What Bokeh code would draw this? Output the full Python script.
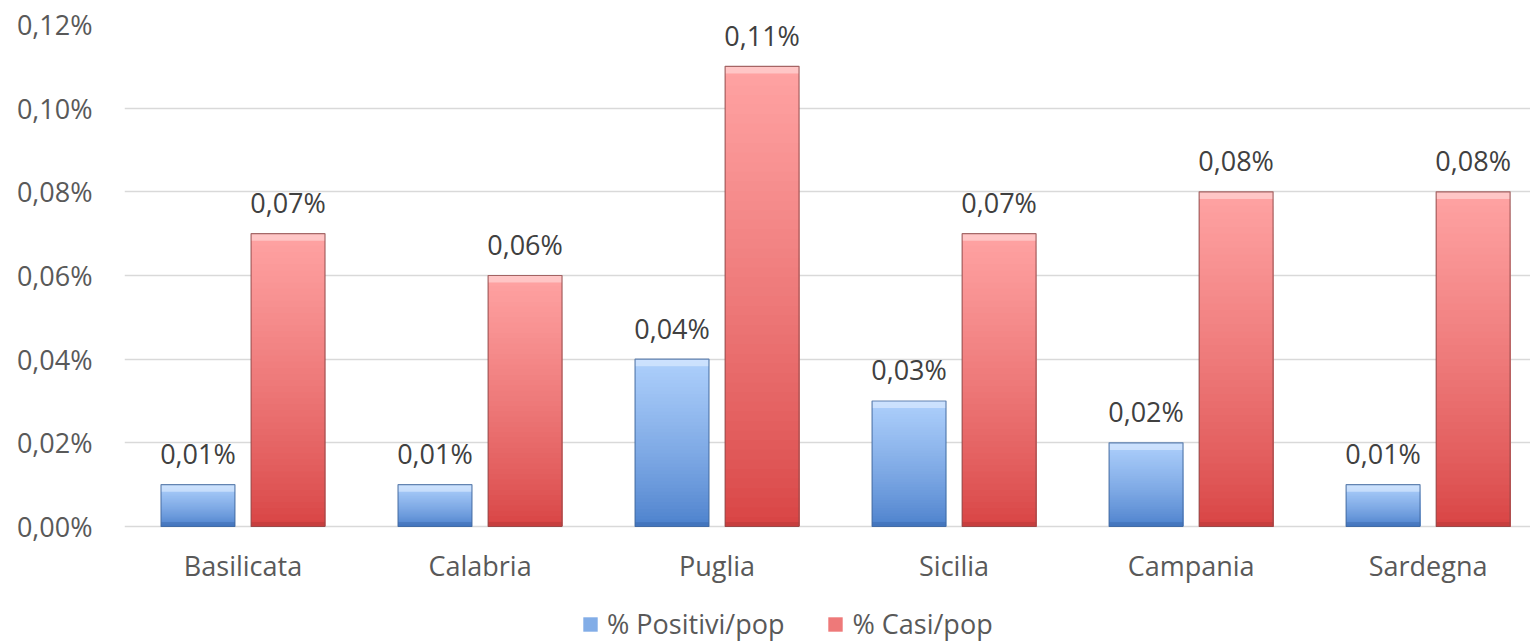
from bokeh.plotting import figure
from bokeh.models import Range1d, FixedTicker, Legend, LegendItem, ColumnDataSource
from bokeh.embed import file_html
from bokeh.resources import INLINE
from bokeh.core.properties import value

# ---- data ----
regions = ["Basilicata", "Calabria", "Puglia", "Sicilia", "Campania", "Sardegna"]
positivi_pop = [0.01, 0.01, 0.04, 0.03, 0.02, 0.01]
casi_pop = [0.07, 0.06, 0.11, 0.07, 0.08, 0.08]
series_names = ["% Positivi/pop", "% Casi/pop"]
y_ticks = [0.00, 0.02, 0.04, 0.06, 0.08, 0.10, 0.12]
y_tick_labels = ["0,00%", "0,02%", "0,04%", "0,06%", "0,08%", "0,10%", "0,12%"]

FONT = "Open Sans"
FS = "27px"
TXT = "#595959"

p = figure(width=1530, height=643, output_backend="svg", toolbar_location=None,
           x_range=Range1d(0, 5.932), y_range=Range1d(-0.02797, 0.12),
           x_axis_location=None,
           min_border_left=124, min_border_right=0, min_border_top=24, min_border_bottom=0)
p.outline_line_color = None
p.background_fill_color = "white"
p.border_fill_color = "white"


def hex2rgb(h):
    h = h.lstrip("#")
    return tuple(int(h[i:i + 2], 16) for i in (0, 2, 4))


def mix(c1, c2, t):
    a, b = hex2rgb(c1), hex2rgb(c2)
    return "#%02x%02x%02x" % tuple(int(round(a[i] + (b[i] - a[i]) * t)) for i in range(3))


N_STEPS = 48


def gradient_bars(xs, vals, width, c_top, c_bot, c_line, c_hi, c_lo):
    n = N_STEPS
    src = dict(x=[], top=[], color=[])
    # overlapping bars from 0, tallest first -> smooth vertical gradient without seams
    for k in range(n):
        frac = (n - k) / n
        t = (n - k - 0.5) / n
        for x, v in zip(xs, vals):
            src["x"].append(x)
            src["top"].append(v * frac)
            src["color"].append(mix(c_bot, c_top, t ** 0.8))
    r = p.vbar(x="x", bottom=0, top="top", width=width, fill_color="color",
               line_color=None, source=ColumnDataSource(src))
    # bevel highlight at top, darker strip at bottom
    p.vbar(x=xs, bottom=[v - 0.0017 for v in vals], top=vals, width=width,
           fill_color=c_hi, fill_alpha=0.55, line_color=None)
    p.vbar(x=xs, bottom=[0] * len(vals), top=[min(0.0011, v) for v in vals], width=width,
           fill_color=c_lo, fill_alpha=0.3, line_color=None)
    p.vbar(x=xs, bottom=0, top=vals, width=width, fill_color=None,
           line_color=c_line, line_width=1.2, line_alpha=0.8)
    return r


xc = [i + 0.5 for i in range(len(regions))]
off = 0.19
bw = 0.312
x_pos = [x - off for x in xc]
x_casi = [x + off for x in xc]

r_pos = gradient_bars(x_pos, positivi_pop, bw, "#aed0fc", "#4a7fcb", "#41689e", "#e6f1ff", "#2e5a9a")
r_casi = gradient_bars(x_casi, casi_pop, bw, "#ffa3a3", "#d74242", "#8e4a4a", "#ffe3e3", "#a03030")


def fmt(v):
    return ("%.2f" % v).replace(".", ",") + "%"


# data labels
p.text(x=x_pos, y=positivi_pop, text=[fmt(v) for v in positivi_pop], text_align="center",
       text_baseline="middle", y_offset=-31, text_font=value(FONT),
       text_font_size=FS, text_color="#404040")
p.text(x=x_casi, y=casi_pop, text=[fmt(v) for v in casi_pop], text_align="center",
       text_baseline="middle", y_offset=-31, text_font=value(FONT),
       text_font_size=FS, text_color="#404040")

# category labels (x axis)
p.text(x=xc, y=[0] * len(xc), text=regions, text_align="center", text_baseline="middle",
       y_offset=39, text_font=value(FONT), text_font_size=FS, text_color=TXT)

# y axis
p.yaxis.ticker = FixedTicker(ticks=y_ticks)
p.yaxis.major_label_overrides = {t: l for t, l in zip(y_ticks, y_tick_labels)}
p.yaxis.major_tick_line_color = None
p.yaxis.minor_tick_line_color = None
p.yaxis.axis_line_color = None
p.yaxis.major_label_standoff = 26
p.yaxis.major_label_text_font = FONT
p.yaxis.major_label_text_font_size = FS
p.yaxis.major_label_text_color = TXT

p.xgrid.grid_line_color = None
p.ygrid.grid_line_color = "#d9d9d9"
p.ygrid.grid_line_width = 1.5

# legend (glyph colour taken from a mid-gradient row of each bar renderer)
mid = (N_STEPS // 2) * len(regions)
legend = Legend(items=[LegendItem(label=series_names[0], renderers=[r_pos], index=mid),
                       LegendItem(label=series_names[1], renderers=[r_casi], index=mid)],
                location=(457, 1), orientation="horizontal",
                label_text_font=FONT, label_text_font_size=FS, label_text_color=TXT,
                glyph_width=18, glyph_height=18, label_standoff=8, spacing=42,
                padding=0, margin=0, border_line_color=None, background_fill_alpha=0)
p.add_layout(legend, "center")

open("out.html", "w").write(file_html(p, INLINE))
